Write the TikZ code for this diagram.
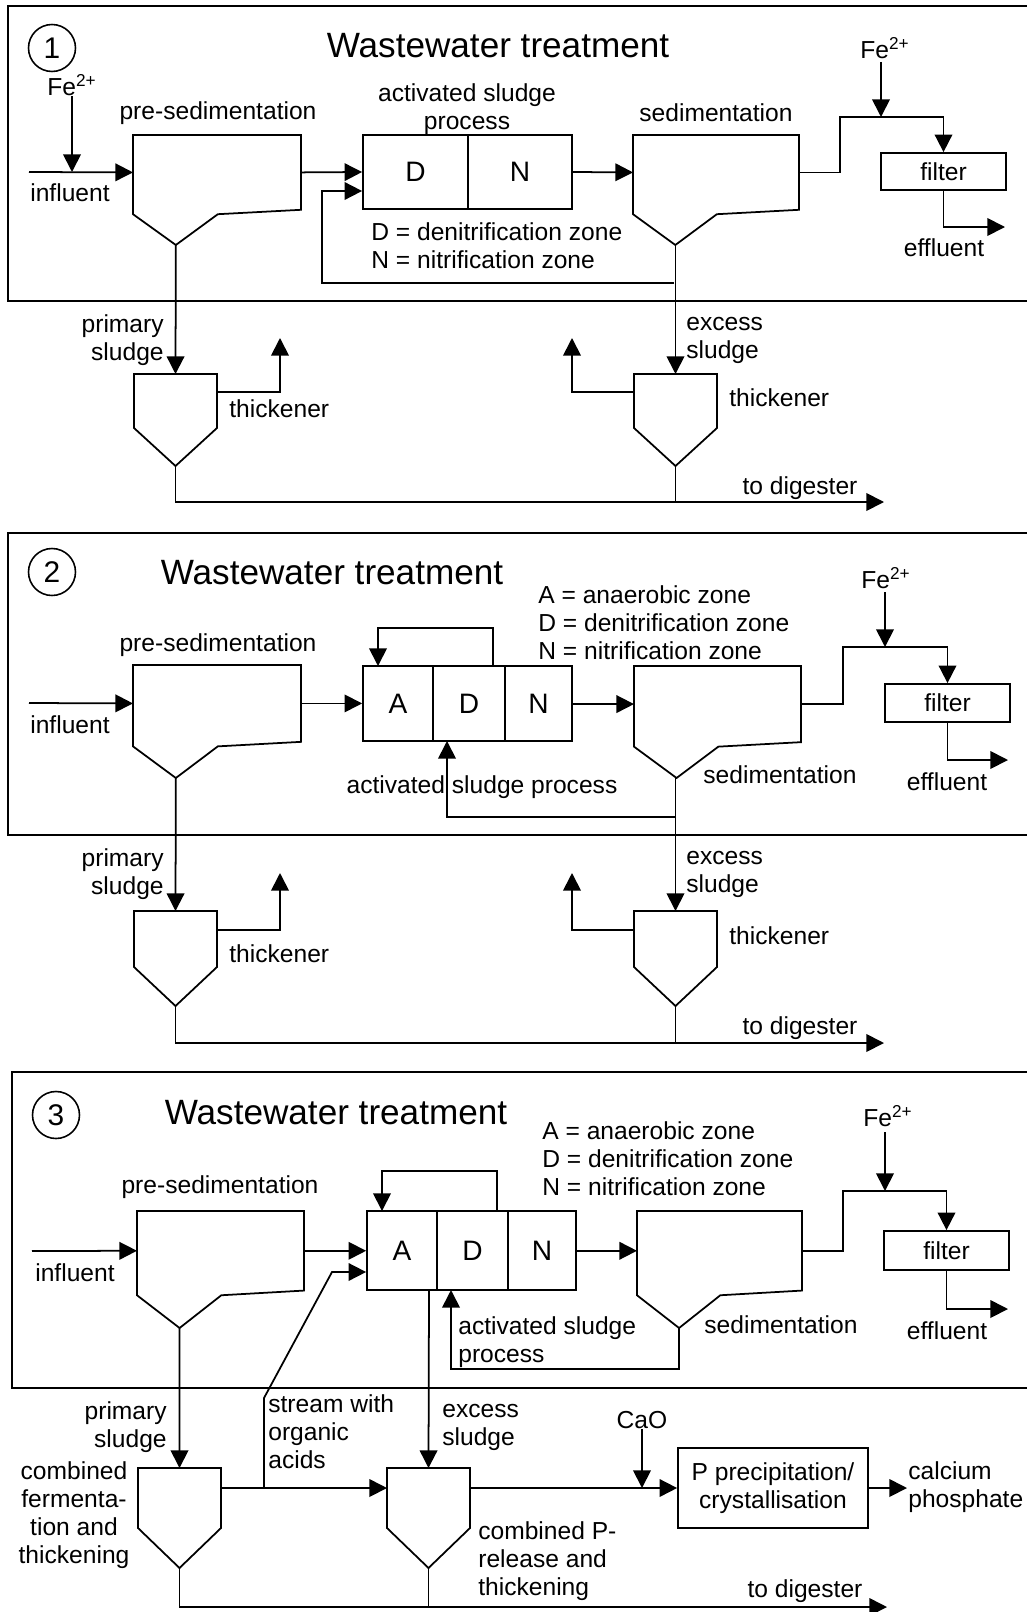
\documentclass[tikz,border=0pt]{standalone}
\usepackage{fontspec}
\setmainfont{Liberation Sans}
\usetikzlibrary{arrows.meta,positioning}

\tikzset{
  pipe/.style={line width=1pt},
  flow/.style={pipe, -{Triangle[length=10pt,width=10pt]}},
  frame/.style={line width=1.1pt},
  txt/.style={font=\fontsize{14}{16}\selectfont, inner sep=0pt, align=left},
  title/.style={font=\fontsize{20}{24}\selectfont, inner sep=0pt},
  stepno/.style={circle, draw, line width=0.9pt, minimum size=0.94cm, inner sep=0pt, font=\fontsize{17}{20}\selectfont},
  unit/.style={draw, pipe, inner sep=0pt, font=\fontsize{14}{16}\selectfont, align=center},
  zone/.style={unit, font=\fontsize{16}{18}\selectfont},
}

% settling basin: name, x, y, width, depth
\newcommand{\basin}[5]{%
  \draw[pipe] (#2,#3) -- ++(#4,0) -- ++(0,0.68*#5) -- (#2+0.505*#4,#3+0.72*#5)
    -- (#2+0.255*#4,#3+#5) -- (#2,#3+0.72*#5) -- cycle;
  \coordinate (#1-w) at (#2,#3+0.34*#5);
  \coordinate (#1-e) at (#2+#4,#3+0.34*#5);
  \coordinate (#1-b) at (#2+0.255*#4,#3+#5);
}
% thickener: name, x, y, side, cone
\newcommand{\thickener}[5]{%
  \draw[pipe] (#2,#3) -- ++(83,0) -- ++(0,#4) -- ++(-41.5,#5) -- ++(-41.5,-#5) -- cycle;
  \coordinate (#1-t) at (#2+41.5,#3);
  \coordinate (#1-l) at (#2,#3+#4/3);
  \coordinate (#1-r) at (#2+83,#3+#4/3);
  \coordinate (#1-b) at (#2+41.5,#3+#4+#5);
}

\begin{document}
\begin{tikzpicture}[x=0.02cm, y=-0.02cm]
\useasboundingbox (0,0) rectangle (1027,1612);
\clip (0,0) rectangle (1027,1612);

%% ---------- scheme 1 ----------
\draw[frame] (8,6) rectangle (1045,301);
\node[stepno] (no1) at (52,48) {1};
\node[title] (ttl1) at (498,46) {Wastewater treatment};

\basin{ps1}{133}{135}{168}{110}
\basin{sd1}{633}{135}{166}{110}
\node[zone, minimum width=2.1cm, minimum height=1.48cm] (D1) at (415.5,172) {D};
\node[zone, minimum width=2.08cm, minimum height=1.48cm] (N1) at (520,172) {N};
\node[unit, minimum width=2.5cm, minimum height=0.74cm] (fil1) at (943.5,171.5) {filter};

\node[txt] (fe1a) at (72,85) {Fe\textsuperscript{2+}};
\node[txt] (inf1) at (70,193) {influent};
\node[txt] (lps1) at (218,113) {pre-sedimentation};
\node[txt, align=center] (las1) at (467,109) {activated sludge\\process};
\node[txt] (lsd1) at (716,113) {sedimentation};
\node[txt, anchor=west] (key1) at (371,246) {D = denitrification zone\\N = nitrification zone};
\node[txt] (fe1b) at (885,48) {Fe\textsuperscript{2+}};
\node[txt] (eff1) at (944,248) {effluent};

\coordinate (in1) at (29,172);
\draw[flow] (fe1a.south -| 72,0) -- (72,172);
\draw[flow] (in1) -- (ps1-w);
\draw[flow] (ps1-e) -- (D1.west);
\draw[flow] (N1.east) -- (sd1-w);
\draw[flow] (674,283) -| (322,191) -- (D1.west |- 0,191);
\draw[flow] (sd1-e) -| (840,117) -| (fil1.north);
\draw[flow] (881,62) -- (881,117);
\draw[flow] (fil1.south) |- (1005,227);

\thickener{th1}{134}{374}{54}{38}
\thickener{th2}{634}{374}{54}{38}
\node[txt, align=right, anchor=east] (lpr1) at (164,340) {primary\\sludge};
\node[txt, anchor=west] (lth1) at (229,409) {thickener};
\node[txt, anchor=west] (lex1) at (686,340) {excess\\sludge};
\node[txt, anchor=west] (lth2) at (729,398) {thickener};
\node[txt] (dig1) at (800,488) {to digester};

\draw[flow] (ps1-b) -- (th1-t);
\draw[flow] (sd1-b -| th2-t) -- (th2-t);
\draw[flow] (th1-r) -| (280,338);
\draw[flow] (th2-l) -| (572,338);
\draw[flow] (th1-b) |- (884,502);
\draw[pipe] (th2-b) -- (th2-b |- 0,502);

%% ---------- scheme 2 ----------
\draw[frame] (8,533) rectangle (1045,835);
\node[stepno] (no2) at (52,572) {2};
\node[title] (ttl2) at (332,573) {Wastewater treatment};

\basin{ps2}{133}{665}{168}{113}
\basin{sd2}{634}{666}{167}{112}
\node[zone, minimum width=1.4cm, minimum height=1.5cm] (A2) at (398,703.5) {A};
\node[zone, minimum width=1.44cm, minimum height=1.5cm] (D2) at (469,703.5) {D};
\node[zone, minimum width=1.34cm, minimum height=1.5cm] (N2) at (538.5,703.5) {N};
\node[unit, minimum width=2.5cm, minimum height=0.76cm] (fil2) at (947.5,703) {filter};

\node[txt, anchor=west] (key2) at (538,623) {A = anaerobic zone\\D = denitrification zone\\N = nitrification zone};
\node[txt] (lps2) at (218,645) {pre-sedimentation};
\node[txt] (inf2) at (70,725) {influent};
\node[txt] (las2) at (482,787) {activated sludge process};
\node[txt] (lsd2) at (780,775) {sedimentation};
\node[txt] (fe2) at (886,578) {Fe\textsuperscript{2+}};
\node[txt] (eff2) at (947,782) {effluent};

\coordinate (in2) at (29,703);
\draw[flow] (in2) -- (ps2-w);
\draw[flow] (ps2-e) -- (ps2-e -| A2.west);
\draw[flow] (N2.east |- sd2-w) -- (sd2-w);
\draw[flow] (493,666) |- (378,628) -- (378,666);
\draw[flow] (676,817) -| (447,741);
\draw[flow] (sd2-e) -| (843,647) -| (fil2.north);
\draw[flow] (885,592) -- (885,647);
\draw[flow] (fil2.south) |- (1008,760);

\thickener{th3}{134}{911}{56}{39}
\thickener{th4}{634}{911}{56}{39}
\node[txt, align=right, anchor=east] (lpr2) at (164,874) {primary\\sludge};
\node[txt, anchor=west] (lth3) at (229,954) {thickener};
\node[txt, anchor=west] (lex2) at (686,874) {excess\\sludge};
\node[txt, anchor=west] (lth4) at (729,936) {thickener};
\node[txt] (dig2) at (800,1028) {to digester};

\draw[flow] (ps2-b) -- (th3-t);
\draw[flow] (sd2-b -| th4-t) -- (th4-t);
\draw[flow] (th3-r) -| (280,873);
\draw[flow] (th4-l) -| (572,873);
\draw[flow] (th3-b) |- (884,1043);
\draw[pipe] (th4-b) -- (th4-b |- 0,1043);

%% ---------- scheme 3 ----------
\draw[frame] (12,1072) rectangle (1045,1388);
\node[stepno] (no3) at (56,1115) {3};
\node[title] (ttl3) at (336,1113) {Wastewater treatment};

\basin{ps3}{137}{1211}{167}{117}
\basin{sd3}{637}{1211}{165}{117}
\node[zone, minimum width=1.4cm, minimum height=1.58cm] (A3) at (402,1250.5) {A};
\node[zone, minimum width=1.42cm, minimum height=1.58cm] (D3) at (472.5,1250.5) {D};
\node[zone, minimum width=1.36cm, minimum height=1.58cm] (N3) at (542,1250.5) {N};
\node[unit, minimum width=2.5cm, minimum height=0.78cm] (fil3) at (946.5,1250.5) {filter};

\node[txt, anchor=west] (key3) at (542,1159) {A = anaerobic zone\\D = denitrification zone\\N = nitrification zone};
\node[txt] (lps3) at (220,1187) {pre-sedimentation};
\node[txt] (inf3) at (75,1273) {influent};
\node[txt, anchor=west] (las3) at (458,1342) {activated sludge\\process};
\node[txt] (lsd3) at (781,1325) {sedimentation};
\node[txt] (fe3) at (888,1116) {Fe\textsuperscript{2+}};
\node[txt] (eff3) at (947,1331) {effluent};

\coordinate (in3) at (32,1251);
\draw[flow] (in3) -- (ps3-w);
\draw[flow] (ps3-e) -- (ps3-e -| A3.west);
\draw[flow] (N3.east |- sd3-w) -- (sd3-w);
\draw[flow] (497,1211) |- (382,1171) -- (382,1211);
\draw[flow] (sd3-b) |- (451,1369) -- (451,1290);
\draw[flow] (sd3-e) -| (843,1191) -| (fil3.north);
\draw[flow] (885,1132) -- (885,1191);
\draw[flow] (fil3.south) |- (1008,1309);

\thickener{fm3}{138}{1468}{60}{40}
\thickener{pr3}{387}{1468}{60}{40}
\node[unit, minimum width=3.8cm, minimum height=1.6cm] (pcr) at (773,1488) {P precipitation/\\crystallisation};

\node[txt, align=right, anchor=east] (lpr3) at (167,1427) {primary\\sludge};
\node[txt, anchor=west] (lst3) at (268,1432) {stream with\\organic\\acids};
\node[txt, anchor=west] (lex3) at (442,1427) {excess\\sludge};
\node[txt] (cao) at (642,1420) {CaO};
\node[txt, align=center] (lfm3) at (74,1515) {combined\\fermenta-\\tion and\\thickening};
\node[txt, anchor=west] (lpr) at (478,1561) {combined P-\\release and\\thickening};
\node[txt, anchor=west] (cap) at (908,1487) {calcium\\phosphate};
\node[txt] (dig3) at (805,1591) {to digester};

\coordinate (oa3) at (264,1488);
\draw[flow] (ps3-b) -- (fm3-t);
\draw[flow] (429,1290) -- (pr3-t);
\draw[flow] (fm3-r) -- (pr3-l);
\draw[flow] (oa3) -- (264,1398) -- (332,1272) -- (A3.west |- 0,1272);
\draw[flow] (pr3-r) -- (pcr.west);
\draw[flow] (cao.south) -- (cao.south |- pcr.west);
\draw[flow] (pcr.east) -- (907,1488);
\draw[flow] (fm3-b) |- (887,1607);
\draw[pipe] (pr3-b) -- (pr3-b |- 0,1607);

\end{tikzpicture}
\end{document}
